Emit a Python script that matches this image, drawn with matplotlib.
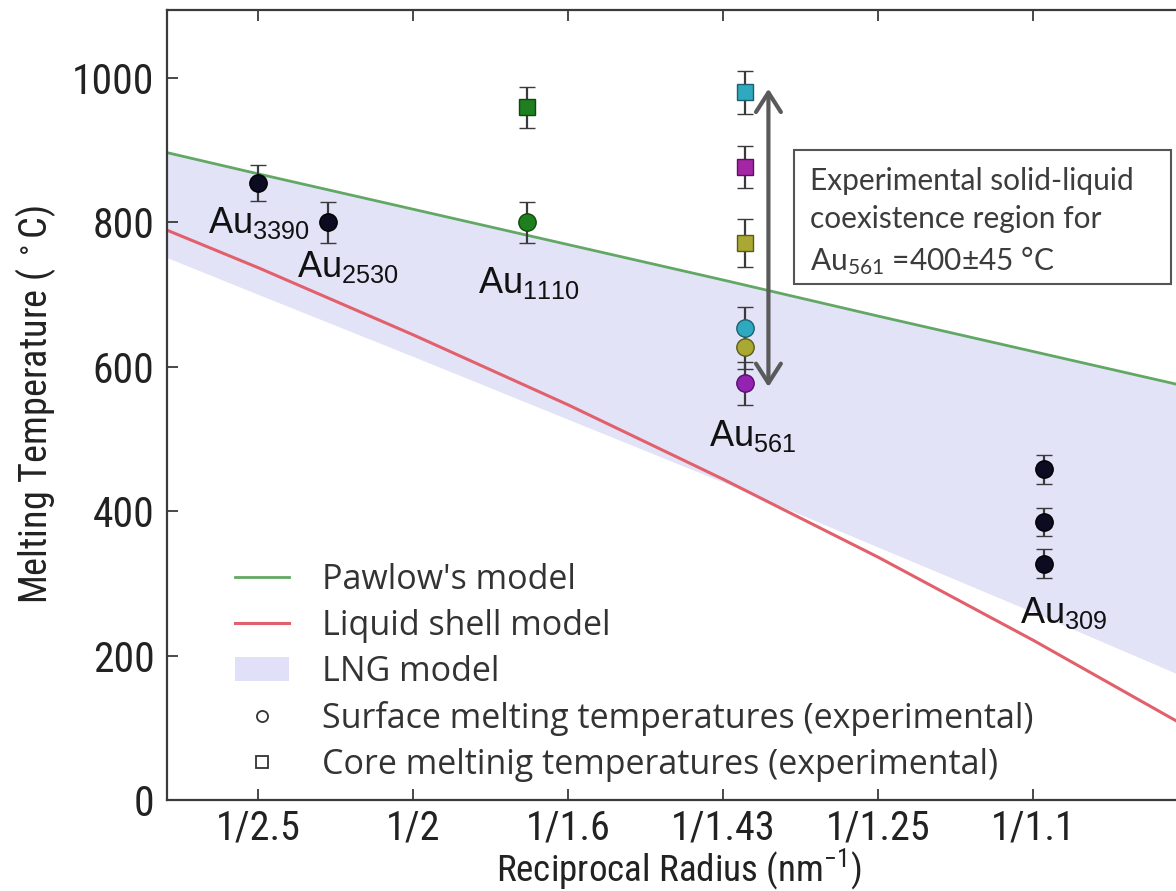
import matplotlib
matplotlib.use("Agg")
import matplotlib.pyplot as plt
from matplotlib import font_manager as fm
from matplotlib.patches import Patch, Rectangle
from matplotlib.lines import Line2D


def pick(*names):
    for n in names:
        try:
            fm.findfont(fm.FontProperties(family=n), fallback_to_default=False)
            return n
        except Exception:
            pass
    return "DejaVu Sans"


def narrow_font():
    """Return (FontProperties, width factor vs. Liberation Sans) for a narrow face."""
    prefs = [("narrow", "liberationsansnarrow", 0.82),
             ("condensed", "robotocondensed", 0.90),
             ("condensed", "dejavusanscondensed", 1.03),
             ("condensed", "notosans-condensed", 0.86)]
    files = [f.fname for f in fm.fontManager.ttflist]
    for _, key, factor in prefs:
        for fn in files:
            base = fn.replace("_", "").replace(" ", "").lower()
            if key in base and "bold" not in base and "italic" not in base \
                    and "oblique" not in base and "light" not in base:
                return fm.FontProperties(fname=fn), factor
    return fm.FontProperties(family="Liberation Sans"), 1.0


AXIS_PROP, AXIS_W = narrow_font()
LABEL_FONT = pick("Liberation Sans", "Arial")
LEGEND_FONT = pick("Open Sans", "Noto Sans")
BOX_FONT = pick("Lato", "Open Sans")

plt.rcParams["mathtext.default"] = "regular"

# ---- data -------------------------------------------------------------
xtick_pos = [0.4, 0.5, 0.6, 0.7, 0.8, 0.9]
xtick_labels = ["1/2.5", "1/2", "1/1.6", "1/1.43", "1/1.25", "1/1.1"]
ytick_pos = [0, 200, 400, 600, 800, 1000]

model_x = [0.34, 0.40, 0.50, 0.60, 0.70, 0.80, 0.90, 1.00]
pawlow_T = [897, 867, 818, 769, 720, 670, 621, 572]
shell_T = [790, 737, 644, 547, 444, 336, 221, 100]
lng_low = [752, 700, 614, 527, 440, 350, 260, 168]
lng_high = [897, 867, 818, 769, 720, 670, 621, 572]

# surface melting (circles)
surf_x = [0.400, 0.445, 0.573, 0.714, 0.714, 0.714, 0.907, 0.907, 0.907]
surf_T = [855, 800, 800, 653, 627, 577, 458, 385, 327]
surf_err = [25, 28, 28, 30, 30, 30, 20, 20, 20]
surf_color = ["#0b0b22", "#0b0b22", "#1f7f1f", "#2fa9c0", "#a9a833",
              "#9422b2", "#0b0b22", "#0b0b22", "#0b0b22"]
surf_edge = ["#000000", "#000000", "#0e4a0e", "#1d5f6e", "#5b5a16",
             "#561064", "#000000", "#000000", "#000000"]

# core melting (squares)
core_x = [0.573, 0.714, 0.714, 0.714]
core_T = [959, 980, 876, 771]
core_err = [28, 30, 29, 33]
core_color = ["#1f7f1f", "#2fa9c0", "#a526a5", "#a9a833"]
core_edge = ["#0e4a0e", "#1d5f6e", "#5c1260", "#5b5a16"]

cluster_names = ["Au$_{3390}$", "Au$_{2530}$", "Au$_{1110}$", "Au$_{561}$", "Au$_{309}$"]
cluster_label_xy = [(0.3674, 785), (0.4248, 724), (0.5416, 702), (0.6906, 490), (0.8913, 245)]

arrow_x = 0.729
arrow_T = [572, 985]

# ---- figure -----------------------------------------------------------
fig = plt.figure(figsize=(11.76, 8.91), dpi=100)
ax = fig.add_axes([167 / 1176, 1 - 800 / 891, (1188.5 - 167) / 1176, 790 / 891])
ax.set_xlim(0.341, 1.0)
ax.set_ylim(0, 1094)

ax.fill_between(model_x, lng_low, lng_high, color="#e3e3f8", lw=0, zorder=1)
ax.plot(model_x, pawlow_T, color="#62a865", lw=2.0, zorder=2)
ax.plot(model_x, shell_T, color="#e2606c", lw=2.2, zorder=2)

for x, t, e, c, ec in zip(surf_x, surf_T, surf_err, surf_color, surf_edge):
    ax.errorbar(x, t, yerr=e, fmt="o", ms=12.5, mfc=c, mec=ec, mew=1.0,
                ecolor="#3a3a3a", elinewidth=1.6, capsize=5.5, capthick=1.6,
                zorder=4)
for x, t, e, c, ec in zip(core_x, core_T, core_err, core_color, core_edge):
    ax.errorbar(x, t, yerr=e, fmt="s", ms=11, mfc=c, mec=ec, mew=1.0,
                ecolor="#3a3a3a", elinewidth=1.6, capsize=5.5, capthick=1.6,
                zorder=4)

for name, (lx, ly) in zip(cluster_names, cluster_label_xy):
    ax.text(lx, ly, name, family=LABEL_FONT, fontsize=26, color="#111111",
            ha="left", va="baseline", zorder=6)

# solid-liquid coexistence arrow and note
ax.annotate("", xy=(arrow_x, arrow_T[1]), xytext=(arrow_x, arrow_T[0]),
            arrowprops=dict(arrowstyle="<->,head_length=0.5,head_width=0.32",
                            color="#5a5a5a", lw=3.0, mutation_scale=28,
                            shrinkA=0, shrinkB=0), zorder=5)
ax.add_patch(Rectangle((0.7455, 714.7), 0.2432, 185.3, fill=False,
                       ec="#555555", lw=1.5, zorder=5))
ax.text(0.7556, 800, "Experimental solid-liquid\ncoexistence region for\n"
        "Au$_{561}$ =400±45 °C", family=BOX_FONT, fontsize=21.5,
        color="#3c3c3c", ha="left", va="center", linespacing=1.43, zorder=6)

# axes styling
for side in ["left", "bottom", "top", "right"]:
    ax.spines[side].set_color("#3a3a3a")
    ax.spines[side].set_linewidth(1.6)
ax.set_xticks(xtick_pos)
ax.set_xticklabels(xtick_labels)
ax.set_yticks(ytick_pos)
ax.tick_params(direction="in", length=8, width=1.3, color="#3a3a3a",
               top=True, right=True, labelcolor="#222222")
ax.tick_params(axis="x", pad=6)
ax.tick_params(axis="y", pad=9)
for lab in ax.get_xticklabels():
    lab.set_fontproperties(AXIS_PROP)
    lab.set_fontsize(26.0 / AXIS_W)
for lab in ax.get_yticklabels():
    lab.set_fontproperties(AXIS_PROP)
    lab.set_fontsize(27.0 / AXIS_W)

ax.set_xlabel("Reciprocal Radius (nm$^{-1}$)", fontproperties=AXIS_PROP,
              color="#222222", va="center", ha="center")
ax.xaxis.label.set_fontsize(24.0 / AXIS_W)
ax.xaxis.set_label_coords(0.501, -0.0875)
ax.set_ylabel("Melting Temperature ( $^\\circ$C)", fontproperties=AXIS_PROP,
              color="#222222", va="center", ha="center")
ax.yaxis.label.set_fontsize(24.8 / AXIS_W)
ax.yaxis.set_label_coords(-0.129, 0.50)

handles = [
    Line2D([], [], color="#62a865", lw=2.0),
    Line2D([], [], color="#e2606c", lw=2.2),
    Patch(facecolor="#e0e0f8", edgecolor="none"),
    Line2D([], [], ls="none", marker="o", ms=8, mfc="none", mec="#333333", mew=1.3),
    Line2D([], [], ls="none", marker="s", ms=8, mfc="none", mec="#333333", mew=1.3),
]
labels = ["Pawlow's model", "Liquid shell model", "LNG model",
          "Surface melting temperatures (experimental)",
          "Core meltinig temperatures (experimental)"]
leg = ax.legend(handles, labels, loc="lower left", bbox_to_anchor=(0.043, -0.007),
                frameon=False, prop=dict(family=LEGEND_FONT, size=24.5),
                handlelength=1.6, handletextpad=0.95, labelspacing=0.35,
                borderaxespad=0.3)
for t in leg.get_texts():
    t.set_color("#333333")

fig.savefig("out.png", dpi=100)
